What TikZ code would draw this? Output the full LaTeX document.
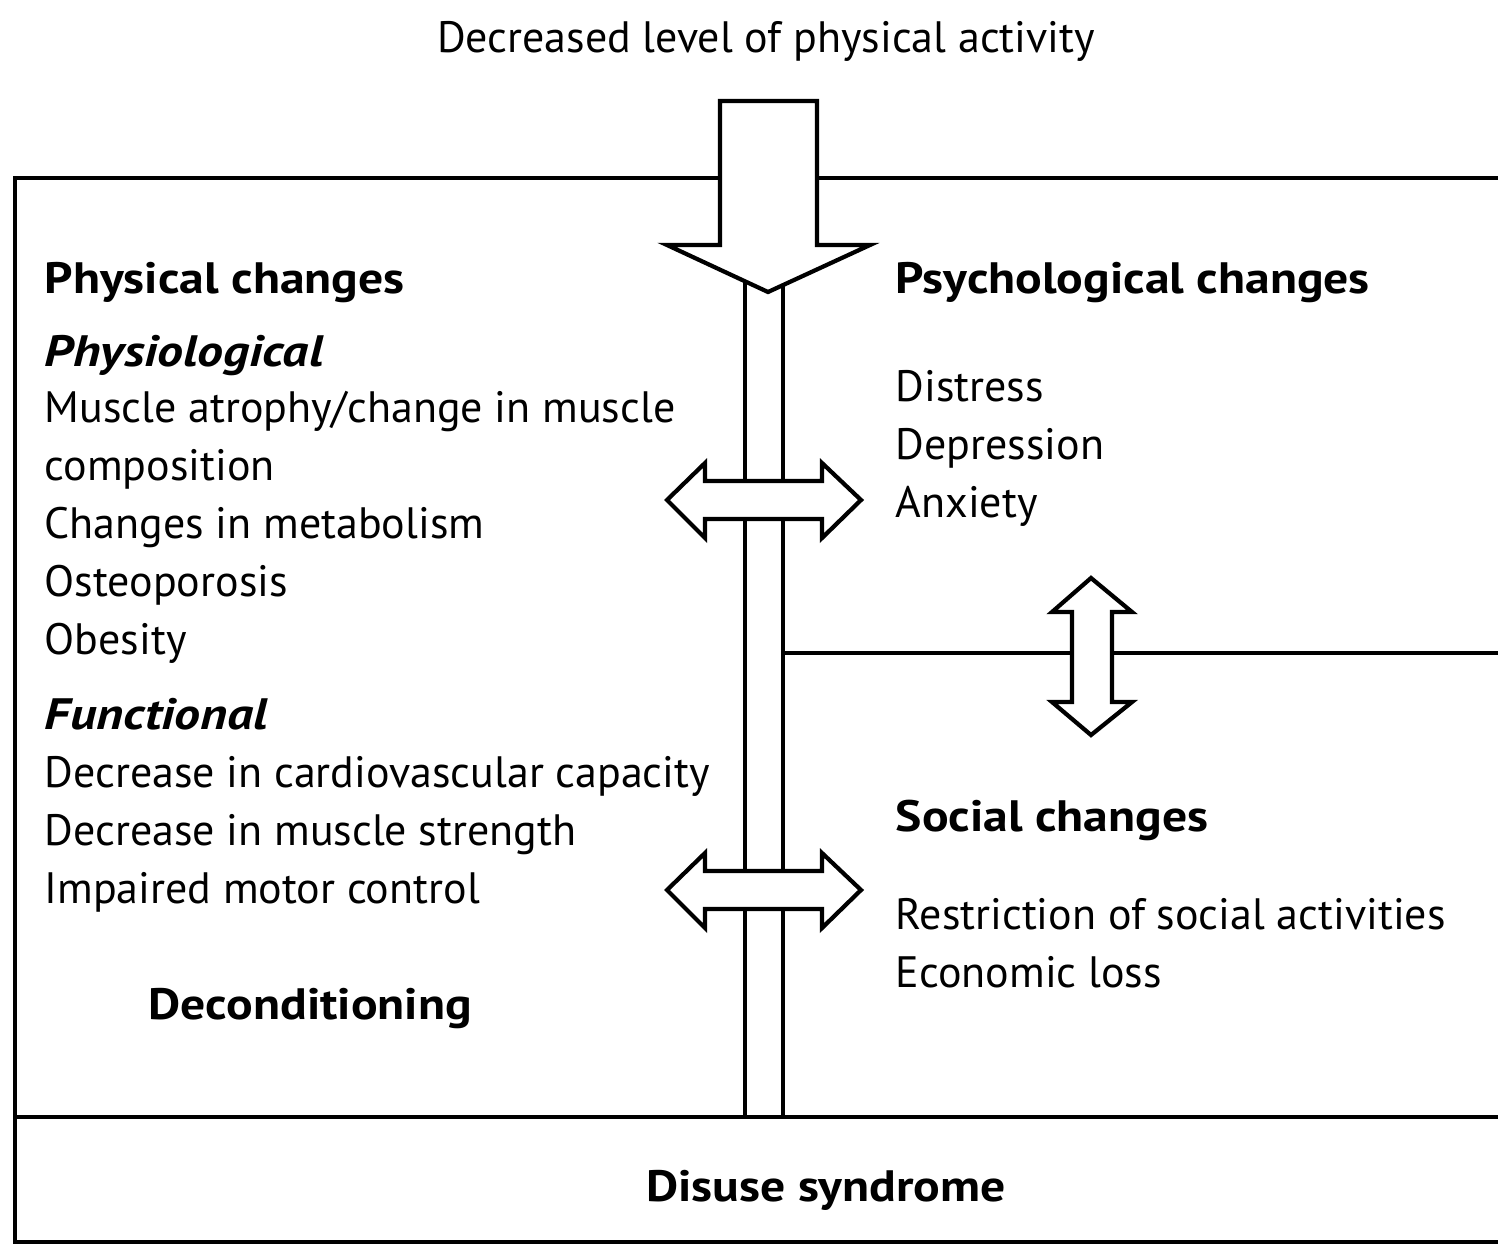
\documentclass[tikz,border=0pt]{standalone}
\usepackage{fontspec}
\setmainfont{PT Sans}[BoldFeatures={FakeStretch=1.13},BoldItalicFeatures={FakeStretch=1.18}]
\begin{document}
\begin{tikzpicture}[x=0.01cm,y=-0.01cm,
  frame/.style={line width=1.2pt},
  fatarrow/.style={line width=1.2pt, fill=white, line join=miter},
  txt/.style={anchor=base west, inner sep=0pt, font=\fontsize{12.5pt}{14pt}\selectfont},
  head/.style={txt, font=\fontsize{12.5pt}{14pt}\selectfont\bfseries},
  subhead/.style={txt, font=\fontsize{12.5pt}{14pt}\selectfont\bfseries\itshape}]
\useasboundingbox (0,0) rectangle (1498,1245);
% frame
\draw[frame] (720,178) -- (15,178) -- (15,1242) -- (1498,1242);
\draw[frame] (817,178) -- (1498,178);
\draw[frame] (15,1117) -- (1498,1117);
% channel
\draw[frame] (745,270) -- (745,1117);
\draw[frame] (783,270) -- (783,1117);
\draw[frame] (783,653) -- (1498,653);
% top arrow
\draw[fatarrow] (720,101) -- (817,101) -- (817,245) -- (870,245) -- (768,292) -- (667,245) -- (720,245) -- cycle;
% horizontal double arrows
\foreach \c in {500,890} {
  \draw[fatarrow] (667,\c) -- (705,\c-37) -- (705,\c-19) -- (822,\c-19) -- (822,\c-37) -- (861,\c) -- (822,\c+38) -- (822,\c+19) -- (705,\c+19) -- (705,\c+38) -- cycle;
}
% vertical double arrow
\draw[fatarrow] (1091,578) -- (1132,612) -- (1112,612) -- (1112,702) -- (1132,702) -- (1091,735) -- (1052,702) -- (1072,702) -- (1072,612) -- (1052,612) -- cycle;
% texts
\node[anchor=base, inner sep=0pt, font=\fontsize{12.5pt}{14pt}\selectfont] (top) at (766,52) {Decreased level of physical activity};
\node[head] (phys) at (44,293) {Physical changes};
\node[subhead] (physio) at (44,366) {Physiological};
\node[txt] (l1) at (44,422) {Muscle atrophy/change in muscle};
\node[txt] (l2) at (44,480) {composition};
\node[txt] (l3) at (44,538) {Changes in metabolism};
\node[txt] (l4) at (44,596) {Osteoporosis};
\node[txt] (l5) at (44,654) {Obesity};
\node[subhead] (func) at (44,729) {Functional};
\node[txt] (f1) at (44,787) {Decrease in cardiovascular capacity};
\node[txt] (f2) at (44,845) {Decrease in muscle strength};
\node[txt] (f3) at (44,903) {Impaired motor control};
\node[head] (decon) at (148,1019) {Deconditioning};
\node[head] (psych) at (895,293) {Psychological changes};
\node[txt] (p1) at (895,401) {Distress};
\node[txt] (p2) at (895,459) {Depression};
\node[txt] (p3) at (895,517) {Anxiety};
\node[head] (soc) at (895,831) {Social changes};
\node[txt] (s1) at (895,929) {Restriction of social activities};
\node[txt] (s2) at (895,987) {Economic loss};
\node[anchor=base, inner sep=0pt, font=\fontsize{12.5pt}{14pt}\selectfont\bfseries] (dis) at (826,1201) {Disuse syndrome};
\end{tikzpicture}
\end{document}
